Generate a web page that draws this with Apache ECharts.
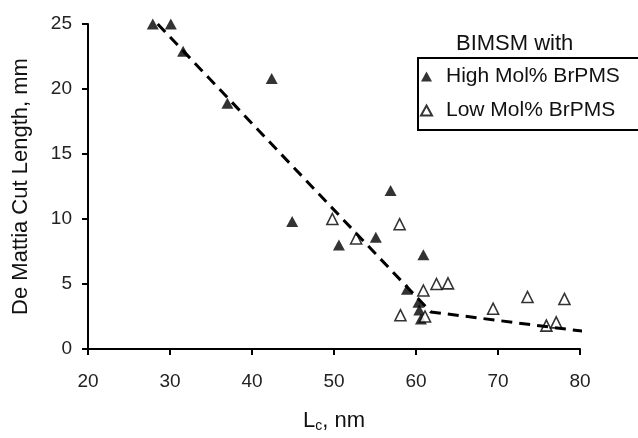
<!DOCTYPE html>
<html><head><meta charset="utf-8">
<script src="https://cdn.jsdelivr.net/npm/echarts@6/dist/echarts.min.js"></script>
<style>html,body{margin:0;padding:0;background:#fff}#c{width:638px;height:438px}</style>
</head><body><div id="c"></div>
<script>
// High Mol% BrPMS (filled triangles)
const highX = [27.9, 30.1, 31.6, 37.0, 42.4, 44.9, 50.6, 55.1, 56.9, 58.9, 60.9, 60.3, 60.4, 60.6];
const highY = [25.0, 25.0, 22.9, 18.9, 20.8, 9.8, 8.0, 8.6, 12.2, 4.6, 7.25, 3.6, 3.0, 2.3];
// Low Mol% BrPMS (open triangles)
const lowX = [49.8, 52.7, 58.0, 58.1, 60.9, 62.5, 63.9, 61.1, 69.4, 73.6, 75.9, 77.1, 78.1];
const lowY = [10.0, 8.5, 9.6, 2.6, 4.5, 5.0, 5.05, 2.5, 3.1, 4.0, 1.8, 2.05, 3.85];
// dashed trend line
const trendX = [28.5, 61.8, 80.6];
const trendY = [25.0, 2.85, 1.35];
// axes
const xMin = 20, xMax = 80, xStep = 10;
const yMin = 0, yMax = 25, yStep = 5;
const seriesNames = ['High Mol% BrPMS', 'Low Mol% BrPMS'];
const legendTitle = 'BIMSM with';
const xName = 'L{sub|c}, nm';
const yName = 'De Mattia Cut Length, mm';

const pairs = (xs, ys) => xs.map((x, i) => [x, ys[i]]);
const FONT = '"Liberation Sans", Arial, sans-serif';

const chart = echarts.init(document.getElementById('c'), null, {renderer: 'canvas'});
chart.setOption({
  animation: false,
  backgroundColor: '#fff',
  textStyle: {fontFamily: FONT},
  title: {
    text: legendTitle, left: 451, top: 28,
    textStyle: {fontFamily: FONT, fontSize: 22, fontWeight: 'normal', color: '#111'}
  },
  legend: {
    orient: 'vertical', left: 418, top: 58,
    padding: [8, 60, 9, 2], itemGap: 13,
    itemWidth: 11, itemHeight: 10,
    borderColor: '#000', borderWidth: 2, borderRadius: 0,
    textStyle: {fontFamily: FONT, fontSize: 21, color: '#111', padding: [0, 0, 0, 9]},
    data: [
      {name: seriesNames[0], icon: 'triangle'},
      {name: seriesNames[1], icon: 'triangle'}
    ]
  },
  grid: {left: 88, right: 58, top: 24, bottom: 84, containLabel: false},
  xAxis: {
    type: 'value', min: xMin, max: xMax, interval: xStep,
    name: xName, nameLocation: 'middle', nameGap: 60,
    nameTextStyle: {fontFamily: FONT, fontSize: 22, color: '#111',
      rich: {sub: {fontSize: 14, padding: [10, 0, 0, 0], fontFamily: FONT, color: '#111'}}},
    axisLine: {lineStyle: {color: '#000', width: 2}},
    axisTick: {show: true, length: 6, lineStyle: {color: '#000', width: 2}},
    axisLabel: {fontFamily: FONT, fontSize: 19, color: '#222', margin: 23},
    splitLine: {show: false}
  },
  yAxis: {
    type: 'value', min: yMin, max: yMax, interval: yStep,
    name: yName, nameLocation: 'middle', nameGap: 56,
    nameTextStyle: {fontFamily: FONT, fontSize: 22, color: '#111'},
    axisLine: {show: true, lineStyle: {color: '#000', width: 2}},
    axisTick: {show: true, length: 6, lineStyle: {color: '#000', width: 2}},
    axisLabel: {fontFamily: FONT, fontSize: 19, color: '#222', margin: 16},
    splitLine: {show: false}
  },
  series: [
    {
      name: seriesNames[0], type: 'scatter', symbol: 'triangle', symbolSize: [12, 11],
      itemStyle: {color: '#000', borderColor: '#000', borderWidth: 0},
      data: pairs(highX, highY), z: 3
    },
    {
      name: seriesNames[1], type: 'scatter', symbol: 'triangle', symbolSize: [11, 11],
      itemStyle: {color: '#fff', borderColor: '#000', borderWidth: 1.6},
      data: pairs(lowX, lowY), z: 3
    },
    {
      name: 'trend', type: 'line', symbol: 'none', silent: true,
      lineStyle: {color: '#000', width: 3, type: [11, 7]},
      data: pairs(trendX, trendY), z: 4
    }
  ]
});
</script>
</body></html>
